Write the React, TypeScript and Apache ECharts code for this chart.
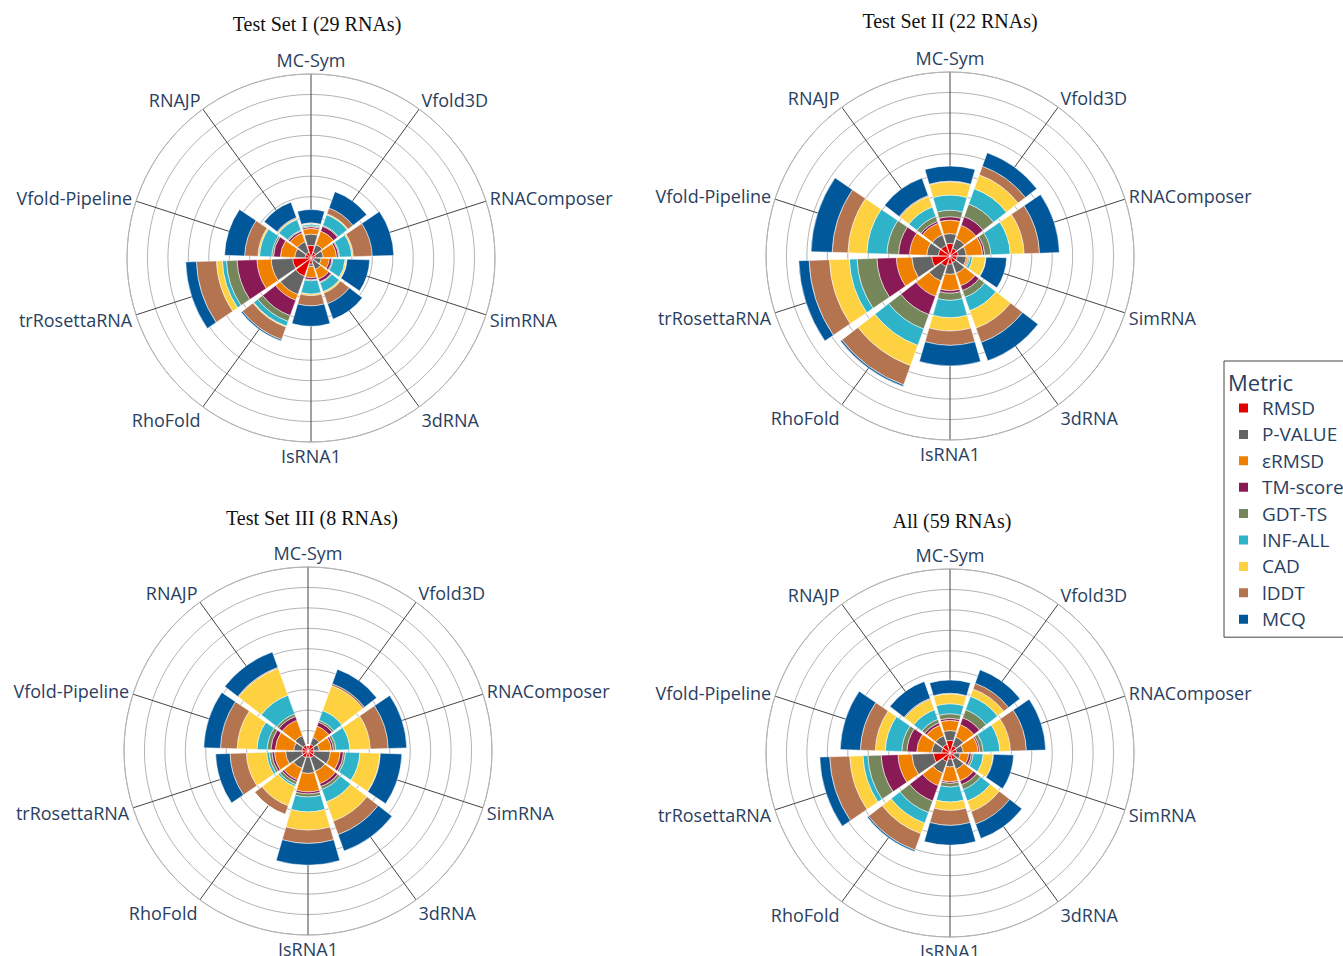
import React, { useEffect, useRef } from "react";
import * as echarts from "echarts";

// Angular categories (clockwise from top)
const categories = [
  "MC-Sym",
  "Vfold3D",
  "RNAComposer",
  "SimRNA",
  "3dRNA",
  "IsRNA1",
  "RhoFold",
  "trRosettaRNA",
  "Vfold-Pipeline",
  "RNAJP",
];

// Stacked metrics (inner to outer)
const metrics = ["RMSD", "P-VALUE", "εRMSD", "TM-score", "GDT-TS", "INF-ALL", "CAD", "lDDT", "MCQ"];
const metricColors = ["#e50000", "#646464", "#f08000", "#8a1a56", "#75875a", "#2fb3c9", "#fdd13f", "#b57450", "#00579a"];

const panelTitles = ["Test Set I (29 RNAs)", "Test Set II (22 RNAs)", "Test Set III (8 RNAs)", "All (59 RNAs)"];

// rows = metrics (same order as `metrics`), columns = categories
const testSet1 = [
  [0.62, 0.3, 0.22, 0.15, 0.15, 0.3, 0.95, 0.9, 0.3, 0.3],
  [0.55, 0.4, 0.38, 0.35, 0.45, 0.12, 0.95, 1.05, 0.5, 0.55],
  [0.28, 0.7, 0.65, 0.4, 0.5, 0.55, 0.3, 0.7, 0.7, 0.45],
  [0.08, 0.25, 0.1, 0.12, 0.15, 0.1, 0.8, 0.97, 0.34, 0.1],
  [0.05, 0.05, 0.05, 0.05, 0.05, 0.05, 0.3, 0.52, 0.08, 0.05],
  [0.08, 0.55, 0.6, 0.6, 0.45, 0.65, 0.25, 0.2, 0.6, 0.55],
  [0.03, 0.05, 0.07, 0.08, 0.08, 0.07, 0.05, 0.29, 0.08, 0.05],
  [0.03, 0.3, 0.93, 0.02, 0.55, 0.5, 0.65, 0.98, 0.65, 0.05],
  [0.65, 0.85, 1.05, 1.1, 0.8, 1.0, 0.07, 0.52, 0.98, 0.8],
];

const testSet2 = [
  [0.62, 0.4, 0.4, 0.35, 0.35, 0.4, 0.55, 0.9, 0.57, 0.55],
  [0.48, 0.5, 0.4, 0.45, 0.55, 0.5, 0.75, 0.97, 0.57, 0.55],
  [0.66, 0.7, 0.8, 0.08, 0.65, 0.8, 0.8, 0.76, 0.84, 0.6],
  [0.16, 0.45, 0.1, 0.04, 0.25, 0.12, 0.95, 0.95, 0.54, 0.1],
  [0.32, 0.65, 0.3, 0.06, 0.35, 0.35, 0.75, 0.97, 0.57, 0.25],
  [0.74, 0.8, 0.95, 0.12, 0.7, 0.85, 0.85, 0.38, 0.98, 0.5],
  [0.65, 0.72, 0.68, 0.65, 0.9, 0.65, 1.05, 0.97, 0.93, 0.55],
  [0.03, 0.45, 0.75, 0.02, 0.75, 0.7, 1.0, 1.0, 0.77, 0.05],
  [0.74, 0.7, 0.97, 1.0, 0.95, 1.0, 0.08, 0.5, 1.03, 0.9],
];

const testSet3 = [
  [0.3, 0.35, 0.3, 0.3, 0.35, 0.3, 0.35, 0.3, 0.3, 0.3],
  [0, 0.35, 0.25, 0.8, 0.7, 0.8, 0.55, 0.8, 0.4, 0.5],
  [0, 0.6, 0.6, 0.48, 0.65, 0.9, 0.6, 0.55, 0.9, 0.8],
  [0, 0.2, 0.1, 0.16, 0.15, 0.1, 0.1, 0.12, 0.22, 0.2],
  [0, 0.1, 0.12, 0.1, 0.15, 0.15, 0.15, 0.13, 0.18, 0.13],
  [0, 0.5, 0.68, 0.7, 0.65, 0.73, 0.1, 0.12, 0.5, 0.97],
  [0, 1.3, 1.0, 0.98, 1.0, 0.89, 1.0, 1.0, 0.97, 1.4],
  [0, 0.1, 0.88, 0.02, 0.7, 0.65, 0.45, 0.8, 0.82, 0.05],
  [0, 0.75, 0.9, 1.05, 0.85, 1.06, 0, 0.7, 0.81, 0.8],
];

const allSets = [
  [0.62, 0.38, 0.33, 0.2, 0.35, 0.3, 0.45, 0.81, 0.41, 0.45],
  [0.48, 0.45, 0.32, 0.3, 0.5, 0.38, 0.6, 1.06, 0.48, 0.45],
  [0.5, 0.65, 0.73, 0.42, 0.6, 0.73, 0.65, 0.68, 0.74, 0.55],
  [0.1, 0.35, 0.08, 0.12, 0.2, 0.08, 0.8, 0.82, 0.48, 0.12],
  [0.22, 0.42, 0.17, 0.1, 0.25, 0.18, 0.6, 0.65, 0.25, 0.18],
  [0.49, 0.7, 0.81, 0.49, 0.6, 0.73, 0.55, 0.24, 0.81, 0.5],
  [0.48, 0.38, 0.52, 0.48, 0.55, 0.41, 0.55, 0.65, 0.49, 0.55],
  [0.03, 0.3, 0.78, 0.02, 0.65, 0.73, 0.85, 0.98, 0.73, 0.05],
  [0.65, 0.7, 0.94, 0.98, 0.75, 0.97, 0.07, 0.48, 0.98, 0.87],
];

const panelData = [testSet1, testSet2, testSet3, allSets];

// Layout (pixels)
const polarCenters = [
  [311, 258],
  [950, 256],
  [308, 751],
  [950, 753],
];
const titlePositions = [
  [317, 24],
  [950, 21],
  [312, 518],
  [952, 521],
];
const polarRadius = 184;
const radialMax = 9;
// per-label line heights, used to nudge angular labels toward the circle like the reference
const labelLineHeights = [20, 12, 4, 8, 20, 20, 20, 8, 4, 12];

export default function App() {
  const ref = useRef<HTMLDivElement>(null);

  useEffect(() => {
    if (!ref.current) return;
    const chart = echarts.init(ref.current, null, { renderer: "svg" });

    const labelFont = "'Open Sans', 'DejaVu Sans', sans-serif";

    const polar = polarCenters.map((c) => ({ center: c, radius: polarRadius }));

    const angleData = categories.map((c, i) => ({
      value: c,
      textStyle: { lineHeight: labelLineHeights[i] },
    }));

    const angleAxis = polarCenters.map((_, i) => ({
      polarIndex: i,
      type: "category",
      data: angleData,
      startAngle: 90 + 18,
      clockwise: true,
      boundaryGap: true,
      axisLine: { show: true, lineStyle: { color: "#b4b4b4", width: 1 } },
      axisTick: { show: false, alignWithLabel: true },
      splitLine: { show: true, lineStyle: { color: "#444444", width: 1 } },
      axisLabel: { fontSize: 18, color: "#2a3f5f", fontFamily: labelFont, margin: 4 },
      z: 0,
    }));

    const radiusAxis = polarCenters.map((_, i) => ({
      polarIndex: i,
      type: "value",
      min: 0,
      max: radialMax,
      interval: 1,
      axisLine: { show: false },
      axisTick: { show: false },
      axisLabel: { show: false },
      splitLine: { show: true, lineStyle: { color: "#b4b4b4", width: 1 } },
      z: 0,
    }));

    const series: any[] = [];
    panelData.forEach((rows, pi) => {
      metrics.forEach((m, mi) => {
        series.push({
          type: "bar",
          coordinateSystem: "polar",
          polarIndex: pi,
          name: m,
          stack: "panel" + pi,
          data: rows[mi],
          barCategoryGap: "10%",
          itemStyle: { color: metricColors[mi], borderColor: "#ffffff", borderWidth: 0.5 },
          emphasis: { disabled: true },
          z: 2,
        });
      });
    });

    const graphic: any[] = panelTitles.map((t, i) => ({
      type: "text",
      x: titlePositions[i][0],
      y: titlePositions[i][1],
      style: {
        text: t,
        fill: "#111111",
        font: "20px 'Liberation Serif', 'DejaVu Serif', serif",
        align: "center",
        verticalAlign: "middle",
      },
    }));
    graphic.push({
      type: "text",
      x: 1228,
      y: 382,
      z: 100,
      style: {
        text: "Metric",
        fill: "#2a3f5f",
        font: "22px 'Open Sans', 'DejaVu Sans', sans-serif",
        align: "left",
        verticalAlign: "middle",
      },
    });

    chart.setOption({
      animation: false,
      backgroundColor: "#ffffff",
      polar,
      angleAxis,
      radiusAxis,
      series,
      graphic,
      legend: {
        data: metrics,
        orient: "vertical",
        left: 1224,
        top: 361,
        padding: [37, 40, 8, 13],
        itemWidth: 11,
        itemHeight: 11,
        itemGap: 6.4,
        icon: "rect",
        borderColor: "#444444",
        borderWidth: 1,
        backgroundColor: "#ffffff",
        selectedMode: false,
        textStyle: {
          fontSize: 19,
          color: "#2a3f5f",
          fontFamily: labelFont,
          lineHeight: 20,
          padding: [0, 0, 0, 8],
        },
      },
    });

    return () => {
      chart.dispose();
    };
  }, []);

  return (
    <div
      ref={ref}
      style={{ position: "absolute", left: 0, top: 0, width: 1343, height: 956, background: "#fff" }}
    />
  );
}
